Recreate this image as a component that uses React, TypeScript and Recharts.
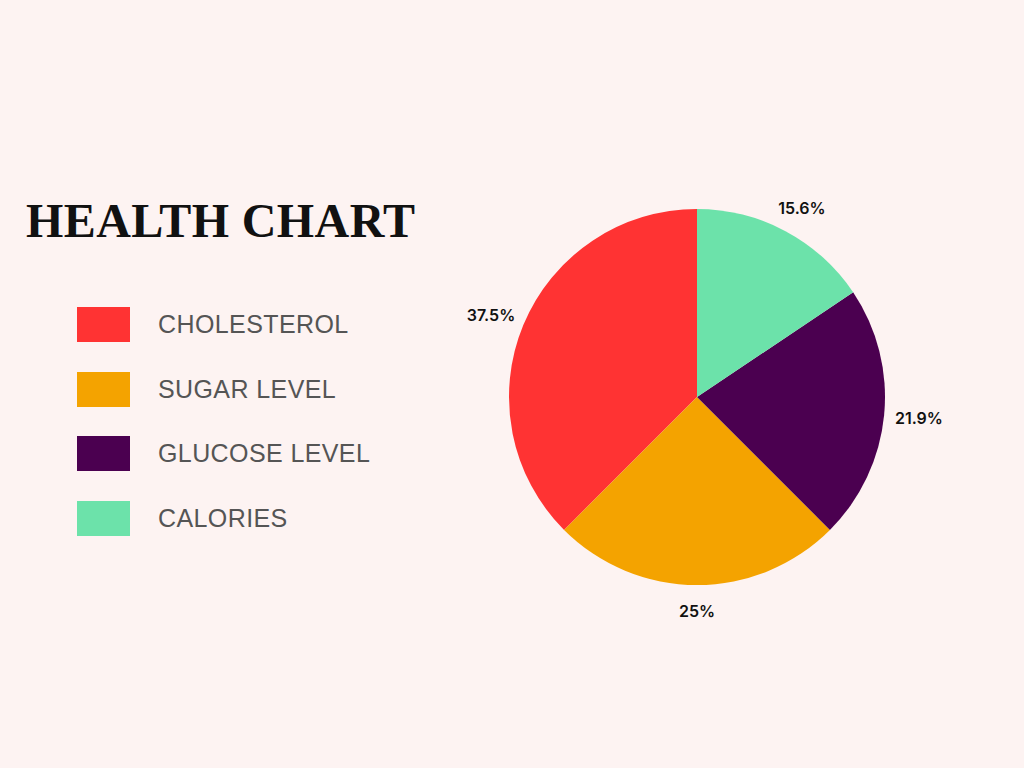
import React from "react";
import { PieChart, Pie, Cell } from "recharts";

const categories = ["CHOLESTEROL", "SUGAR LEVEL", "GLUCOSE LEVEL", "CALORIES"];
const values = [37.5, 25, 21.9, 15.6];
const colors = ["#FF3333", "#F4A300", "#4B0050", "#6CE2AA"];
const title = "HEALTH CHART";

const data = categories.map((name, i) => ({ name, value: values[i] }));

const RAD = Math.PI / 180;

const renderLabel = (props: any) => {
  const { cx, cy, midAngle, outerRadius, value } = props;
  const rx = outerRadius + 35;
  const ry = outerRadius + 26;
  const x = cx + rx * Math.cos(-midAngle * RAD);
  const y = cy + ry * Math.sin(-midAngle * RAD);
  return (
    <text
      x={x}
      y={y}
      textAnchor="middle"
      dominantBaseline="central"
      fill="#111"
      fontFamily="Inter, 'Noto Sans', sans-serif"
      fontWeight={600}
      fontSize={16}
    >
      {`${value}%`}
    </text>
  );
};

export default function App() {
  return (
    <div
      style={{
        position: "absolute",
        left: 0,
        top: 0,
        width: 1024,
        height: 768,
        background: "#FDF3F2",
        overflow: "hidden",
      }}
    >
      <PieChart
        width={1024}
        height={768}
        margin={{ top: 0, right: 0, bottom: 0, left: 0 }}
        style={{ position: "absolute", left: 0, top: 0 }}
      >
        <Pie
          data={data}
          dataKey="value"
          nameKey="name"
          cx={697}
          cy={397}
          outerRadius={188}
          startAngle={90}
          endAngle={450}
          stroke="none"
          label={renderLabel}
          labelLine={false}
          isAnimationActive={false}
        >
          {data.map((d, i) => (
            <Cell key={d.name} fill={colors[i]} />
          ))}
        </Pie>
      </PieChart>
      <div
        style={{
          position: "absolute",
          left: 26,
          top: 197,
          fontFamily: "'Liberation Serif', 'DejaVu Serif', serif",
          fontWeight: 700,
          fontSize: 48,
          lineHeight: "47px",
          letterSpacing: 0.4,
          color: "#111",
          whiteSpace: "nowrap",
        }}
      >
        {title}
      </div>
      <div
        style={{
          position: "absolute",
          left: 77,
          top: 307,
          display: "flex",
          flexDirection: "column",
          gap: 29.5,
        }}
      >
        {categories.map((name, i) => (
          <div key={name} style={{ display: "flex", alignItems: "center", height: 35 }}>
            <div style={{ width: 53, height: 35, background: colors[i] }} />
            <div
              style={{
                marginLeft: 28,
                fontFamily: "'Liberation Sans', Arial, sans-serif",
                fontSize: 25,
                lineHeight: "25px",
                letterSpacing: 0.4,
                color: "#555555",
                whiteSpace: "nowrap",
              }}
            >
              {name}
            </div>
          </div>
        ))}
      </div>
    </div>
  );
}
